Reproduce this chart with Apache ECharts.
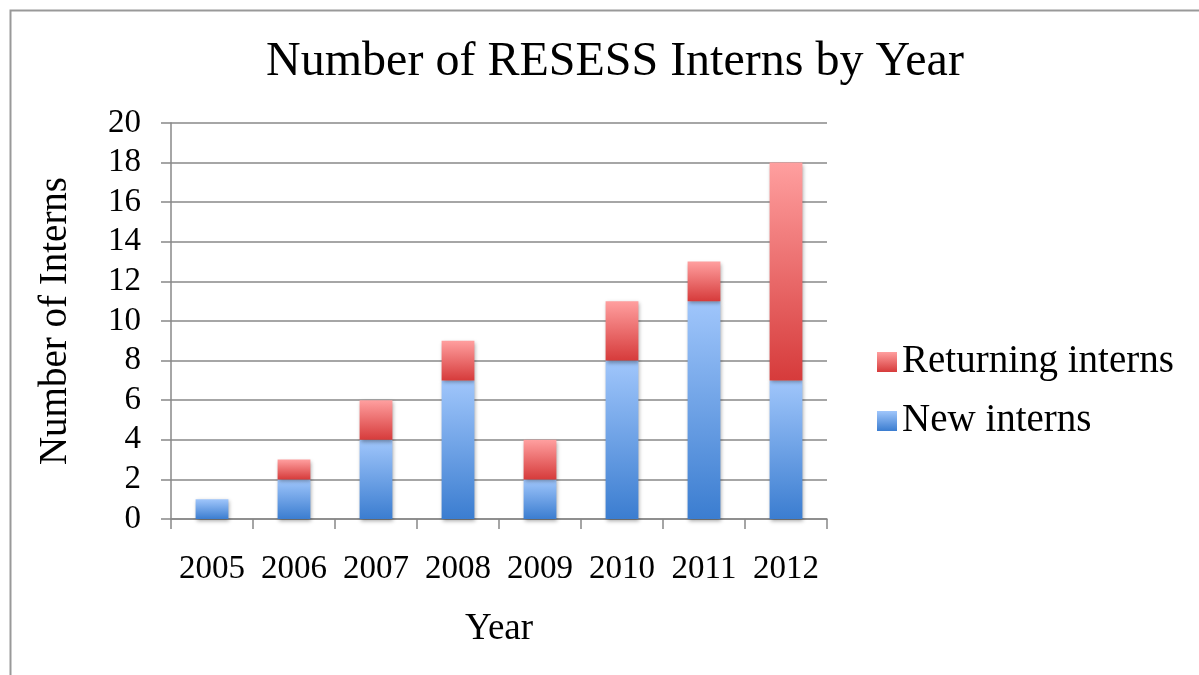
<!DOCTYPE html>
<html><head><meta charset="utf-8">
<script src="https://cdn.jsdelivr.net/npm/echarts@6/dist/echarts.min.js"></script>
<style>html,body{margin:0;padding:0;background:#fff}#c{width:1199px;height:675px}</style>
</head><body><div id="c"></div>
<script>
const years = ['2005','2006','2007','2008','2009','2010','2011','2012'];
const newInterns = [1, 2, 4, 7, 2, 8, 11, 7];
const returningInterns = [0, 1, 2, 2, 2, 3, 2, 11];
const yTicks = {min: 0, max: 20, interval: 2};

const FONT = 'Liberation Serif';
const chart = echarts.init(document.getElementById('c'));
const blueGrad = new echarts.graphic.LinearGradient(0,0,0,1,[{offset:0,color:'#a0c6fb'},{offset:1,color:'#3b7dd0'}]);
const redGrad = new echarts.graphic.LinearGradient(0,0,0,1,[{offset:0,color:'#ff9f9f'},{offset:1,color:'#d63b3b'}]);
const shadow = {shadowBlur:4, shadowColor:'rgba(0,0,0,0.35)', shadowOffsetX:1, shadowOffsetY:2};
chart.setOption({
  animation:false,
  backgroundColor:'#fff',
  graphic:[{type:'rect', shape:{x:10.5,y:10.5,width:1300,height:800}, style:{fill:'none',stroke:'#999',lineWidth:2}, z:-1}],
  title:{text:'Number of RESESS Interns by Year', left:610, top:33, textAlign:'center',
    textStyle:{fontFamily:FONT, fontSize:48, fontWeight:'normal', color:'#000'}},
  grid:{left:171, right:372, top:123, bottom:156},
  legend:{orient:'vertical', left:872, top:337, itemGap:19, itemWidth:20, itemHeight:20,
    icon:'rect', data:['Returning interns','New interns'],
    textStyle:{fontFamily:FONT, fontSize:39, lineHeight:40, color:'#000'}},
  xAxis:{type:'category', data:years, name:'Year', nameLocation:'middle', nameGap:92,
    nameTextStyle:{fontFamily:FONT, fontSize:37, color:'#000'},
    axisLine:{lineStyle:{color:'#888', width:1.5}},
    axisTick:{show:true, length:10, alignWithLabel:false, lineStyle:{color:'#888', width:1.5}},
    axisLabel:{interval:0, hideOverlap:false, fontFamily:FONT, fontSize:33, color:'#000', margin:34}},
  yAxis:{type:'value', min:yTicks.min, max:yTicks.max, interval:yTicks.interval,
    name:'Number of Interns', nameLocation:'middle', nameGap:96,
    nameTextStyle:{fontFamily:FONT, fontSize:39, color:'#000'},
    axisLine:{show:true, lineStyle:{color:'#888', width:1.5}},
    axisTick:{show:true, length:10, lineStyle:{color:'#888', width:1.5}},
    splitLine:{lineStyle:{color:'#888', width:1.5}},
    axisLabel:{fontFamily:FONT, fontSize:33, color:'#000', margin:30}},
  series:[
    {name:'New interns', type:'bar', stack:'t', data:newInterns, barWidth:'40%',
      itemStyle:Object.assign({color:blueGrad}, shadow)},
    {name:'Returning interns', type:'bar', stack:'t', data:returningInterns, barWidth:'40%',
      itemStyle:Object.assign({color:redGrad}, shadow)}
  ]
});
</script></body></html>
